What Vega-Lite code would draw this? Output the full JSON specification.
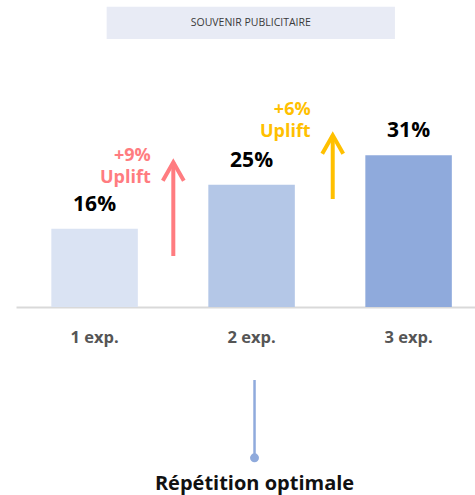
{
  "$schema": "https://vega.github.io/schema/vega-lite/v6.json",
  "width": 459,
  "height": 307,
  "autosize": {"type": "none"},
  "padding": {"left": 16, "right": 0, "top": 0, "bottom": 188},
  "background": "white",
  "config": {"view": {"stroke": null}, "axis": {"grid": false}, "font": "Open Sans"},
  "resolve": {"axis": {"x": "independent", "y": "independent"}},
  "datasets": {
    "bars": [
      {"exp": "1 exp.", "pct": 0.16},
      {"exp": "2 exp.", "pct": 0.25},
      {"exp": "3 exp.", "pct": 0.31}
    ],
    "uplifts": [
      {"exp": "1 exp.", "label": ["+9%", "Uplift"]},
      {"exp": "2 exp.", "label": ["+6%", "Uplift"]}
    ],
    "header": [{"title": "SOUVENIR PUBLICITAIRE"}],
    "callout": [{"label": "Répétition optimale"}]
  },
  "layer": [
    {
      "data": {"name": "bars"},
      "mark": {"type": "bar"},
      "encoding": {
        "x": {
          "field": "exp", "type": "nominal", "sort": null,
          "scale": {"domain": ["1 exp.", "2 exp.", "3 exp."], "paddingInner": 0.449, "paddingOuter": 0.1863, "align": 0.604, "round": false},
          "axis": {"title": null, "domainColor": "#d9d9d9", "domainWidth": 2, "ticks": false, "tickSize": 0, "labelAngle": 0, "labelFont": "Open Sans", "labelFontSize": 16.5, "labelFontWeight": "bold", "labelColor": "#555555", "labelPadding": 35.7, "labelBaseline": "alphabetic"}
        },
        "y": {"field": "pct", "type": "quantitative", "scale": {"domain": [0, 0.6274], "nice": false, "zero": false}, "axis": null},
        "color": {"field": "exp", "type": "nominal", "scale": {"domain": ["1 exp.", "2 exp.", "3 exp."], "range": ["#dae3f3", "#b4c7e7", "#8faadc"]}, "legend": null}
      }
    },
    {
      "data": {"name": "bars"},
      "mark": {"type": "text", "baseline": "alphabetic", "dy": -18, "fontSize": 21, "fontWeight": "bold", "font": "Open Sans", "color": "#000000"},
      "encoding": {
        "x": {"field": "exp", "type": "nominal", "sort": null, "axis": null},
        "y": {"field": "pct", "type": "quantitative", "axis": null},
        "text": {"field": "pct", "type": "quantitative", "format": ".0%"}
      }
    },
    {
      "data": {"name": "uplifts"},
      "transform": [{"filter": "datum.exp === '1 exp.'"}],
      "mark": {"type": "rule", "strokeWidth": 4, "color": "#ff7c80", "strokeCap": "butt"},
      "encoding": {
        "x": {"field": "exp", "type": "nominal", "bandPosition": 1.41, "axis": null},
        "y": {"datum": 0.2957, "type": "quantitative", "axis": null},
        "y2": {"datum": 0.1042}
      }
    },
    {
      "data": {"name": "uplifts"},
      "transform": [{"filter": "datum.exp === '1 exp.'"}],
      "mark": {"type": "point", "shape": "M-1,1.75L0,0L1,1.75", "size": 441, "filled": false, "strokeWidth": 4, "color": "#ff7c80", "opacity": 1, "strokeJoin": "miter", "strokeCap": "butt"},
      "encoding": {
        "x": {"field": "exp", "type": "nominal", "bandPosition": 1.41, "axis": null},
        "y": {"datum": 0.2957, "type": "quantitative", "axis": null}
      }
    },
    {
      "data": {"name": "uplifts"},
      "transform": [{"filter": "datum.exp === '1 exp.'"}],
      "mark": {"type": "text", "align": "right", "baseline": "alphabetic", "fontSize": 18, "fontWeight": "bold", "font": "Open Sans", "lineHeight": 21.7, "color": "#ff7c80"},
      "encoding": {
        "x": {"field": "exp", "type": "nominal", "bandPosition": 1.149, "axis": null},
        "y": {"datum": 0.2984, "type": "quantitative", "axis": null},
        "text": {"field": "label"}
      }
    },
    {
      "data": {"name": "uplifts"},
      "transform": [{"filter": "datum.exp === '2 exp.'"}],
      "mark": {"type": "rule", "strokeWidth": 4, "color": "#ffc000", "strokeCap": "butt"},
      "encoding": {
        "x": {"field": "exp", "type": "nominal", "bandPosition": 1.438, "axis": null},
        "y": {"datum": 0.3509, "type": "quantitative", "axis": null},
        "y2": {"datum": 0.2207}
      }
    },
    {
      "data": {"name": "uplifts"},
      "transform": [{"filter": "datum.exp === '2 exp.'"}],
      "mark": {"type": "point", "shape": "M-1,1.75L0,0L1,1.75", "size": 441, "filled": false, "strokeWidth": 4, "color": "#ffc000", "opacity": 1, "strokeJoin": "miter", "strokeCap": "butt"},
      "encoding": {
        "x": {"field": "exp", "type": "nominal", "bandPosition": 1.438, "axis": null},
        "y": {"datum": 0.3509, "type": "quantitative", "axis": null}
      }
    },
    {
      "data": {"name": "uplifts"},
      "transform": [{"filter": "datum.exp === '2 exp.'"}],
      "mark": {"type": "text", "align": "right", "baseline": "alphabetic", "fontSize": 18, "fontWeight": "bold", "font": "Open Sans", "lineHeight": 21.7, "color": "#ffc000"},
      "encoding": {
        "x": {"field": "exp", "type": "nominal", "bandPosition": 1.183, "axis": null},
        "y": {"datum": 0.3924, "type": "quantitative", "axis": null},
        "text": {"field": "label"}
      }
    },
    {
      "data": {"name": "header"},
      "mark": {"type": "point", "shape": "M-1,-0.1121L1,-0.1121L1,0.1121L-1,0.1121Z", "size": 83100, "filled": true, "color": "#e8ebf5", "opacity": 1, "strokeWidth": 0},
      "encoding": {
        "x": {"datum": "2 exp.", "type": "nominal", "bandPosition": 0.491, "axis": null},
        "y": {"datum": 0.5808, "type": "quantitative", "axis": null}
      }
    },
    {
      "data": {"name": "header"},
      "mark": {"type": "text", "baseline": "middle", "fontSize": 10.5, "font": "Open Sans", "color": "#3a3a3a"},
      "encoding": {
        "x": {"datum": "2 exp.", "type": "nominal", "bandPosition": 0.491, "axis": null},
        "y": {"datum": 0.5808, "type": "quantitative", "axis": null},
        "text": {"field": "title"}
      }
    },
    {
      "data": {"name": "callout"},
      "mark": {"type": "rule", "strokeWidth": 2.5, "color": "#8faadc"},
      "encoding": {
        "x": {"datum": "2 exp.", "type": "nominal", "bandPosition": 0.534, "axis": null},
        "y": {"datum": -0.1492, "type": "quantitative", "axis": null},
        "y2": {"datum": -0.3072}
      }
    },
    {
      "data": {"name": "callout"},
      "mark": {"type": "point", "shape": "circle", "size": 80, "filled": true, "color": "#8faadc", "opacity": 1},
      "encoding": {
        "x": {"datum": "2 exp.", "type": "nominal", "bandPosition": 0.534, "axis": null},
        "y": {"datum": -0.3082, "type": "quantitative", "axis": null}
      }
    },
    {
      "data": {"name": "callout"},
      "mark": {"type": "text", "baseline": "alphabetic", "fontSize": 20, "fontWeight": "bold", "font": "Open Sans", "color": "#111111"},
      "encoding": {
        "x": {"datum": "2 exp.", "type": "nominal", "bandPosition": 0.534, "axis": null},
        "y": {"datum": -0.373, "type": "quantitative", "axis": null},
        "text": {"field": "label"}
      }
    }
  ]
}
